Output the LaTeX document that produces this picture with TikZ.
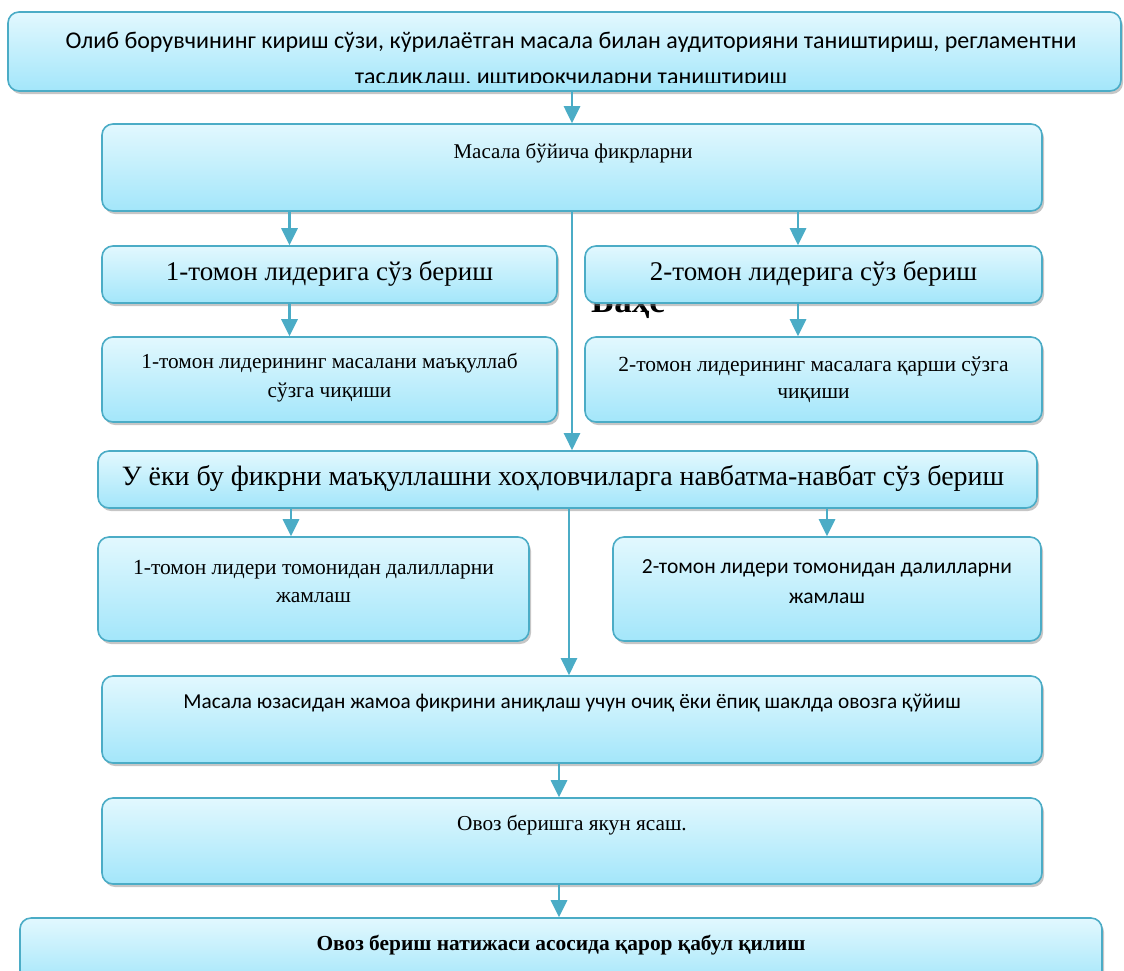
\documentclass[tikz,border=0pt]{standalone}
\usepackage{fontspec}
\setmainfont{Liberation Serif}
\setsansfont{Carlito}
\usetikzlibrary{arrows.meta,shadows}

\definecolor{boxline}{HTML}{4BACC6}
\definecolor{boxtop}{HTML}{E2F8FE}
\definecolor{boxbot}{HTML}{A3E6FA}

\begin{document}
\begin{tikzpicture}[x=1pt,y=-1pt,
                    stage/.style={draw=boxline,line width=1.6pt,rounded corners=11pt,
                                  top color=boxtop,bottom color=boxbot,inner sep=0pt,
                                  drop shadow={shadow xshift=2pt,shadow yshift=-3pt,opacity=0.45}},
                    txt/.style={inner sep=0pt,align=center},
                    link/.style={->,draw=boxline,line width=2.8pt},
                    >={Triangle[width=16pt,length=17pt]}]

\useasboundingbox (0,0) rectangle (1124,970);
\clip (0,0) rectangle (1124,970);

% half hidden title word
\node[txt,anchor=base west,font=\bfseries\fontsize{35}{40}\selectfont] (bahs) at (591,312) {Баҳс};

% boxes
\node[stage,minimum width=1113pt,minimum height=79pt] (b1) at (564.5,51.5) {};
\node[stage,minimum width=940pt,minimum height=87pt] (b2) at (572,167.5) {};
\node[stage,minimum width=455pt,minimum height=57pt] (b3l) at (329.5,274.5) {};
\node[stage,minimum width=457pt,minimum height=57pt] (b3r) at (813.5,274.5) {};
\node[stage,minimum width=455pt,minimum height=85pt] (b4l) at (329.5,379.5) {};
\node[stage,minimum width=457pt,minimum height=85pt] (b4r) at (813.5,379.5) {};
\node[stage,minimum width=939pt,minimum height=57pt] (b5) at (567.5,479.5) {};
\node[stage,minimum width=431pt,minimum height=104pt] (b6l) at (313.5,589) {};
\node[stage,minimum width=428pt,minimum height=104pt] (b6r) at (827,589) {};
\node[stage,minimum width=940pt,minimum height=87pt] (b7) at (572,719.5) {};
\node[stage,minimum width=940pt,minimum height=86pt] (b8) at (572,841) {};
\node[stage,minimum width=1082pt,minimum height=67pt] (b9) at (561,951.5) {};

% texts
\node[txt,font=\sffamily\fontsize{24}{30}\selectfont] (t1) at (571,42)
  {Олиб борувчининг кириш сўзи, кўрилаётган масала билан аудиторияни таништириш, регламентни};
\begin{scope}
\clip (0,0) rectangle (1124,82);
\node[txt,anchor=base,font=\sffamily\fontsize{24}{30}\selectfont] (t1b) at (571,84)
  {тасдиқлаш, иштирокчиларни таништириш};
\end{scope}
\node[txt,font=\fontsize{21}{26}\selectfont] (t2) at (573,153) {Масала бўйича фикрларни};
\node[txt,font=\fontsize{27}{32}\selectfont] (t3l) at (329.5,274) {1-томон лидерига сўз бериш};
\node[txt,font=\fontsize{27}{32}\selectfont] (t3r) at (813.5,274) {2-томон лидерига сўз бериш};
\node[txt,font=\fontsize{21.3}{29}\selectfont] (t4l) at (329.5,377.5)
  {1-томон лидерининг масалани маъқуллаб\\сўзга чиқиши};
\node[txt,font=\fontsize{21.5}{27}\selectfont] (t4r) at (813.5,380)
  {2-томон лидерининг масалага қарши сўзга\\чиқиши};
\node[txt,font=\fontsize{28}{32}\selectfont] (t5) at (563,478)
  {У ёки бу фикрни маъқуллашни хоҳловчиларга навбатма-навбат сўз бериш};
\node[txt,font=\fontsize{21.5}{28}\selectfont] (t6l) at (313.5,581)
  {1-томон лидери томонидан далилларни\\жамлаш};
\node[txt,font=\sffamily\fontsize{21.5}{30}\selectfont] (t6r) at (827,582)
  {2-томон лидери томонидан далилларни\\жамлаш};
\node[txt,font=\sffamily\fontsize{21.3}{26}\selectfont] (t7) at (572,703)
  {Масала юзасидан жамоа фикрини аниқлаш учун очиқ ёки ёпиқ шаклда овозга қўйиш};
\node[txt,font=\fontsize{21.3}{26}\selectfont] (t8) at (572,825) {Овоз беришга якун ясаш.};
\node[txt,font=\bfseries\fontsize{21.4}{26}\selectfont] (t9) at (561,945)
  {Овоз бериш натижаси асосида қарор қабул қилиш};

% connectors
\draw[link] (b2.north |- b1.south) -- (b2.north);
\draw[link] ([xshift=-40pt]b3l.north |- b2.south) -- ([xshift=-40pt]b3l.north);
\draw[link] ([xshift=-15.5pt]b3r.north |- b2.south) -- ([xshift=-15.5pt]b3r.north);
\draw[link,line width=2.2pt] (b2.south) -- (b2.south |- b5.north);
\draw[link] ([xshift=-40pt]b4l.north |- b3l.south) -- ([xshift=-40pt]b4l.north);
\draw[link] ([xshift=-15.5pt]b4r.north |- b3r.south) -- ([xshift=-15.5pt]b4r.north);
\draw[link] ([xshift=-22.5pt]b6l.north |- b5.south) -- ([xshift=-22.5pt]b6l.north);
\draw[link] (b6r.north |- b5.south) -- (b6r.north);
\draw[link,line width=2.2pt] ([xshift=-3pt]b7.north |- b5.south) -- ([xshift=-3pt]b7.north);
\draw[link] ([xshift=-13pt]b8.north |- b7.south) -- ([xshift=-13pt]b8.north);
\draw[link] ([xshift=-13pt]b8.south) -- ([xshift=-13pt]b8.south |- b9.north);

\end{tikzpicture}
\end{document}
